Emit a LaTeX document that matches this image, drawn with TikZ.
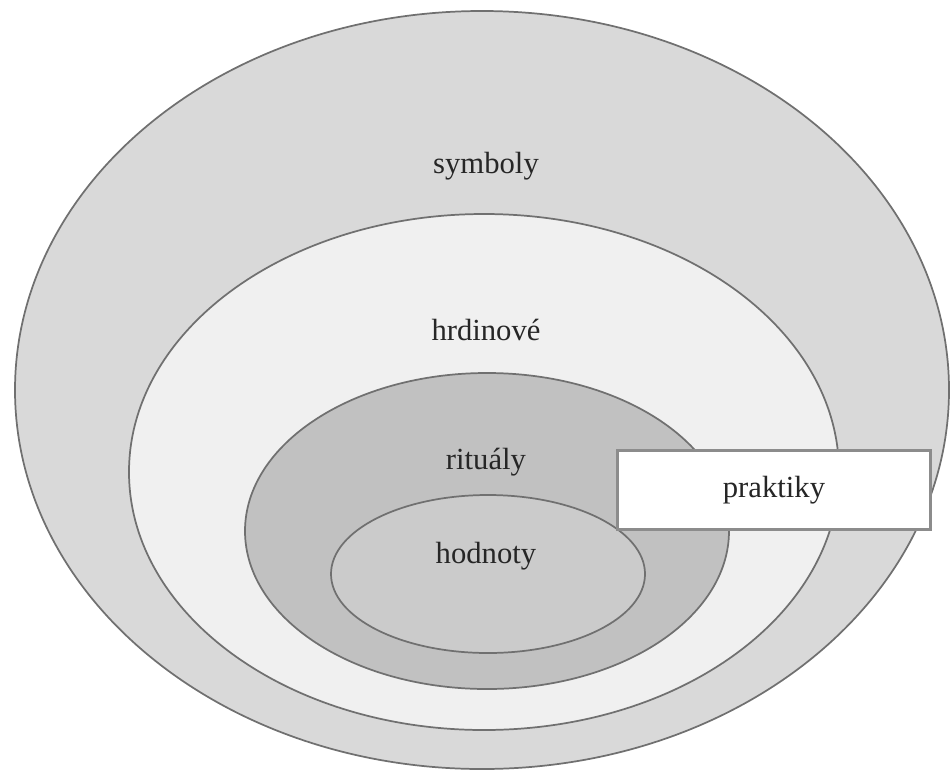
\documentclass[tikz,border=0pt]{standalone}
\usepackage{fontspec}
\setmainfont{Liberation Serif}
\definecolor{ringline}{RGB}{112,112,112}
\definecolor{boxline}{RGB}{140,140,140}
\definecolor{symbolyfill}{RGB}{217,217,217}
\definecolor{hrdinovefill}{RGB}{240,240,240}
\definecolor{ritualyfill}{RGB}{193,193,193}
\definecolor{hodnotyfill}{RGB}{203,203,203}
\begin{document}
\begin{tikzpicture}[x=0.75pt,y=-0.75pt,
    ring/.style={draw=ringline,line width=1.3pt},
    lbl/.style={font=\fontsize{23}{28}\selectfont,text=black!85},
    praxbox/.style={lbl,draw=boxline,line width=2.2pt,fill=white,
      minimum width=235pt,minimum height=59pt}]
  \useasboundingbox (0,0) rectangle (952,772);
  \draw[ring,fill=symbolyfill] (482,390) ellipse [x radius=467,y radius=379];
  \draw[ring,fill=hrdinovefill] (484,472) ellipse [x radius=355,y radius=258];
  \draw[ring,fill=ritualyfill] (487,531) ellipse [x radius=242,y radius=158];
  \draw[ring,fill=hodnotyfill] (488,574) ellipse [x radius=157,y radius=79];
  \node[lbl] (symboly) at (486,166) {symboly};
  \node[lbl] (hrdinove) at (486,330) {hrdinové};
  \node[lbl] (ritualy) at (486,462) {rituály};
  \node[lbl] (hodnoty) at (486,556) {hodnoty};
  \node[praxbox] (praktiky) at (774,490) {praktiky};
\end{tikzpicture}
\end{document}
